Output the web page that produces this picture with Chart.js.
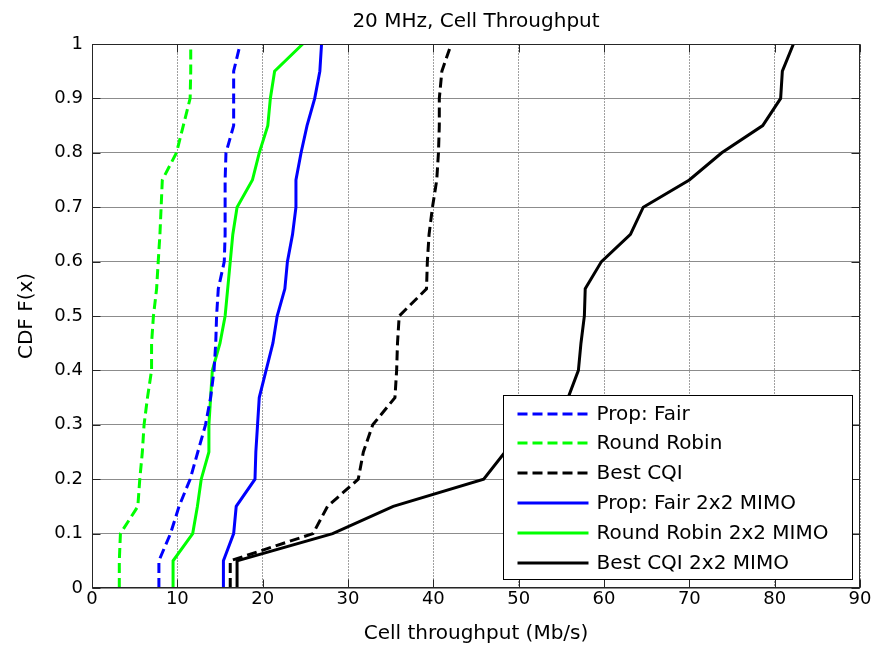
<!DOCTYPE html>
<html><head><meta charset="utf-8">
<script src="https://cdn.jsdelivr.net/npm/chart.js@4"></script>
<style>html,body{margin:0;padding:0;background:#fff}canvas{display:block}</style>
</head><body>
<canvas id="c" width="878" height="648"></canvas>
<script>
// ---- data (CDF levels and throughput in Mb/s) ----
const cdfLevels = [0, 0.05, 0.1, 0.15, 0.2, 0.25, 0.3, 0.35, 0.4, 0.45, 0.5, 0.55, 0.6, 0.65, 0.7, 0.75, 0.8, 0.85, 0.9, 0.95, 1];
const propFair = [7.84, 7.84, 9.2, 10.2, 11.5, 12.4, 13.3, 13.9, 14.3, 14.5, 14.6, 14.8, 15.5, 15.6, 15.6, 15.6, 15.7, 16.6, 16.6, 16.6, 17.37];
const roundRobin = [3.2, 3.2, 3.33, 5.37, 5.6, 5.9, 6.1, 6.5, 6.98, 6.98, 7.2, 7.57, 7.76, 7.96, 8.1, 8.24, 9.9, 10.7, 11.5, 11.57, 11.57];
const bestCqi = [16.2, 16.2, 25.9, 27.6, 31.2, 31.8, 32.9, 35.5, 35.7, 35.8, 36.0, 39.2, 39.3, 39.5, 39.9, 40.4, 40.6, 40.7, 40.7, 41.0, 42.1];
const propFairMimo = [15.4, 15.4, 16.6, 16.9, 19.1, 19.2, 19.4, 19.6, 20.4, 21.2, 21.7, 22.6, 22.9, 23.5, 23.9, 23.9, 24.5, 25.2, 26.1, 26.7, 26.9];
const roundRobinMimo = [9.6, 9.5, 11.8, 12.35, 12.8, 13.7, 13.7, 13.9, 14.1, 15.0, 15.6, 15.9, 16.2, 16.5, 17.0, 18.8, 19.6, 20.6, 20.9, 21.4, 24.7];
const bestCqiMimo = [17.0, 17.0, 28.2, 35.3, 45.9, 48.4, 52.0, 55.8, 57.0, 57.3, 57.7, 57.8, 59.7, 63.1, 64.6, 70.0, 73.8, 78.6, 80.7, 80.9, 82.2];
const seriesNames = ['Prop: Fair', 'Round Robin', 'Best CQI', 'Prop: Fair 2x2 MIMO', 'Round Robin 2x2 MIMO', 'Best CQI 2x2 MIMO'];
const xTickLabels = ['0', '10', '20', '30', '40', '50', '60', '70', '80', '90'];
const yTickLabels = ['0', '0.1', '0.2', '0.3', '0.4', '0.5', '0.6', '0.7', '0.8', '0.9', '1'];

// ---- styles ----
const seriesValues = [propFair, roundRobin, bestCqi, propFairMimo, roundRobinMimo, bestCqiMimo];
const seriesColors = ['#0000ff', '#00ff00', '#000000', '#0000ff', '#00ff00', '#000000'];
const seriesDashed = [true, true, true, false, false, false];
const DASH = [10, 5];
const FONT = 'DejaVu Sans';

Chart.defaults.font.family = FONT;
Chart.defaults.color = '#000';

const datasets = seriesValues.map((vals, i) => ({
  label: seriesNames[i],
  data: vals.map((v, j) => ({ x: v, y: cdfLevels[j] })),
  borderColor: seriesColors[i],
  backgroundColor: seriesColors[i],
  borderWidth: 3,
  borderDash: seriesDashed[i] ? DASH : [],
  pointRadius: 0,
  showLine: true,
  tension: 0,
  fill: false
}));

const framePlugin = {
  id: 'frame',
  afterDatasetsDraw(chart) {
    const { ctx, chartArea: a, scales: { x, y } } = chart;
    ctx.save();
    ctx.strokeStyle = '#262626';
    ctx.lineWidth = 1;
    ctx.setLineDash([]);
    const L = Math.round(a.left) + 0.5, R = Math.round(a.right) - 0.5;
    const T = Math.round(a.top) + 0.5, B = Math.round(a.bottom) - 0.5;
    ctx.strokeRect(L, T, R - L, B - T);
    const tl = 8;
    ctx.beginPath();
    x.ticks.forEach(t => {
      const px = Math.round(x.getPixelForValue(t.value)) + 0.5;
      ctx.moveTo(px, B); ctx.lineTo(px, B - tl);
      ctx.moveTo(px, T); ctx.lineTo(px, T + tl);
    });
    y.ticks.forEach(t => {
      const py = Math.round(y.getPixelForValue(t.value)) + 0.5;
      ctx.moveTo(L, py); ctx.lineTo(L + tl, py);
      ctx.moveTo(R, py); ctx.lineTo(R - tl, py);
    });
    ctx.stroke();
    ctx.restore();
  }
};

const legendPlugin = {
  id: 'boxLegend',
  afterDraw(chart) {
    const { ctx, chartArea: a } = chart;
    const w = 349, h = 184;
    const bx = Math.round(a.right - 8 - w) + 0.5, by = Math.round(a.bottom - 9 - h) + 0.5;
    ctx.save();
    ctx.fillStyle = '#fff';
    ctx.fillRect(bx, by, w, h);
    ctx.strokeStyle = '#000';
    ctx.lineWidth = 1;
    ctx.setLineDash([]);
    ctx.strokeRect(bx, by, w, h);
    ctx.font = '20px "' + FONT + '"';
    ctx.textBaseline = 'middle';
    ctx.textAlign = 'left';
    chart.data.datasets.forEach((ds, i) => {
      const cy = Math.round(by + 18 + i * 29.8);
      ctx.strokeStyle = ds.borderColor;
      ctx.lineWidth = 3;
      ctx.setLineDash(ds.borderDash || []);
      ctx.beginPath();
      ctx.moveTo(bx + 14, cy);
      ctx.lineTo(bx + 85, cy);
      ctx.stroke();
      ctx.fillStyle = '#000';
      ctx.fillText(ds.label, bx + 93, cy + 1);
    });
    ctx.restore();
  }
};

new Chart(document.getElementById('c'), {
  type: 'scatter',
  data: { datasets },
  options: {
    responsive: false,
    animation: false,
    layout: { padding: { left: 0, right: 18, top: 0, bottom: 0 } },
    plugins: {
      legend: { display: false },
      tooltip: { enabled: false },
      title: {
        display: true,
        text: '20 MHz, Cell Throughput',
        fullSize: false,
        font: { size: 20, weight: 'normal', family: FONT, lineHeight: 1.2 },
        color: '#000',
        padding: { top: 10, bottom: 10 }
      }
    },
    scales: {
      x: {
        type: 'linear',
        min: 0, max: 90,
        afterFit: s => { s.height = 60; },
        ticks: {
          stepSize: 10,
          padding: 1,
          maxRotation: 0,
          font: { size: 18 },
          color: '#000',
          callback: (v, i) => xTickLabels[i]
        },
        grid: { color: '#a0a0a0', lineWidth: 1, drawTicks: false },
        border: { display: false, dash: [2, 1] },
        title: {
          display: true,
          text: 'Cell throughput (Mb/s)',
          font: { size: 20, family: FONT },
          color: '#000',
          padding: { top: 0, bottom: 2 }
        }
      },
      y: {
        type: 'linear',
        min: 0, max: 1,
        afterFit: s => { s.width = 92; },
        ticks: {
          stepSize: 0.1,
          padding: 9,
          font: { size: 18 },
          color: '#000',
          callback: (v, i) => yTickLabels[i]
        },
        grid: { color: '#8c8c8c', lineWidth: 1, drawTicks: false },
        border: { display: false },
        title: {
          display: true,
          text: 'CDF F(x)',
          font: { size: 20, family: FONT },
          color: '#000',
          padding: { top: 15, bottom: 0 }
        }
      }
    }
  },
  plugins: [framePlugin, legendPlugin]
});
</script>
</body></html>
